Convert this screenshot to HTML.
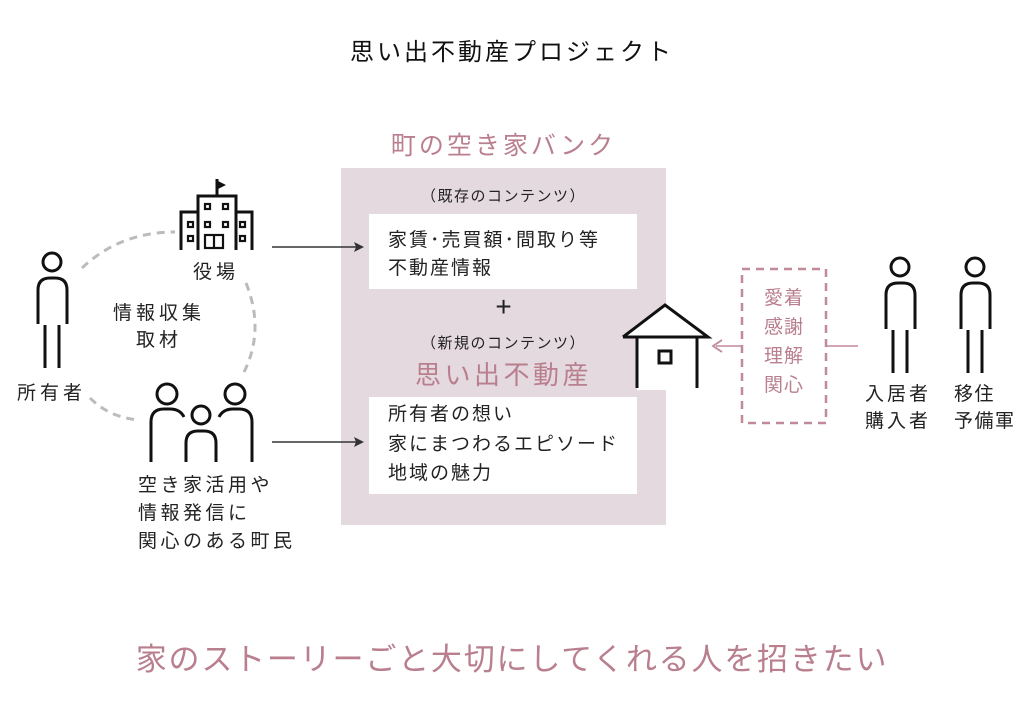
<!DOCTYPE html>
<html><head><meta charset="utf-8"><style>
html,body{margin:0;padding:0;background:#fff;}
body{width:1024px;height:702px;position:relative;overflow:hidden;font-family:"Liberation Sans","Noto Sans CJK JP",sans-serif;color:#222;}
.t{position:absolute;white-space:nowrap;}
.pk{color:#b97f8e;}
.lb{font-size:19px;letter-spacing:4px;}
</style></head><body>
<svg width="1024" height="702" style="position:absolute;left:0;top:0">
<rect x="341" y="168" width="325" height="357" fill="#e3d9de"/>
<rect x="369" y="214" width="268" height="75" fill="#fff"/>
<rect x="369" y="397" width="268" height="97" fill="#fff"/>
<polygon points="623,337 665,305 708,337 697,337 697,390 637,390 637,337" fill="#fff"/>
<g fill="none" stroke="#111" stroke-width="3">
<polyline points="623,337 665,305 708,337 623,337"/>
<line x1="637" y1="337" x2="637" y2="388"/>
<line x1="697" y1="337" x2="697" y2="388"/>
<rect x="659" y="351" width="12" height="12"/>
</g>
<g fill="none" stroke="#bbb" stroke-width="3" stroke-dasharray="8,6">
<path d="M82 268 Q120 232 175 232"/>
<path d="M246 283 Q265 330 244 372"/>
<path d="M90 398 Q110 418 140 420"/>
</g>
<g stroke="#333" stroke-width="1.6" fill="#333">
<line x1="272" y1="247" x2="358" y2="247"/><polygon points="364,247 354,242 356,247 354,252" stroke="none"/>
<line x1="272" y1="442" x2="358" y2="442"/><polygon points="364,442 354,437 356,442 354,447" stroke="none"/>
</g>
<line x1="858" y1="346" x2="716" y2="346" stroke="#c08a98" stroke-width="1.6"/>
<polyline points="722,340 713,346 722,352" fill="none" stroke="#c08a98" stroke-width="1.8"/>
<rect x="742" y="269" width="84" height="154" fill="#fff" stroke="#c08a98" stroke-width="2.5" stroke-dasharray="8,6"/>
<g fill="none" stroke="#111" stroke-width="3">
<line x1="217" y1="179" x2="217" y2="196"/>
<polyline points="198,250 198,196 236,196 236,250"/>
<polyline points="181,250 181,212 198,212"/>
<polyline points="236,212 252,212 252,250"/>
<g stroke-width="2.2">
<rect x="205" y="204" width="5" height="5"/><rect x="223" y="204" width="5" height="5"/>
<rect x="188" y="222" width="5" height="5"/><rect x="205" y="222" width="5" height="5"/><rect x="223" y="222" width="5" height="5"/><rect x="240" y="222" width="5" height="5"/>
<rect x="188" y="236" width="5" height="5"/><rect x="240" y="236" width="5" height="5"/>
<rect x="205" y="235" width="18" height="13"/><line x1="214" y1="235" x2="214" y2="248"/>
</g>
</g>
<polygon points="218,181 226,185 218,189" fill="#111"/>
<g fill="none" stroke="#111" stroke-width="3">
<g id="p"><circle cx="52" cy="262" r="9"/><path d="M38 324 V290 Q38 278 50 278 H55 Q67 278 67 290 V324"/><line x1="45" y1="325" x2="45" y2="368"/><line x1="59" y1="325" x2="59" y2="368"/></g>
<use href="#p" x="848" y="5"/>
<use href="#p" x="923" y="5"/>
<circle cx="167" cy="394" r="10"/>
<path d="M151 462 V422 Q151 409 164 409 H170 Q180 409 184 417"/>
<circle cx="235" cy="394" r="10"/>
<path d="M252 462 V422 Q252 409 239 409 H233 Q223 409 219 417"/>
<circle cx="201" cy="415" r="9"/>
<path d="M186 462 V443 Q186 431 198 431 H204 Q216 431 216 443 V462"/>
</g>
</svg>
<div class="t" style="left:0;width:1024px;text-align:center;top:32px;font-size:24px;letter-spacing:3px;color:#111">思い出不動産プロジェクト</div>
<div class="t pk" style="left:341px;width:325px;text-align:center;top:126px;font-size:25px;letter-spacing:3px">町の空き家バンク</div>
<div class="t" style="left:341px;width:325px;text-align:center;top:185px;font-size:15px;letter-spacing:1.5px">（既存のコンテンツ）</div>
<div class="t" style="left:388px;top:227px;font-size:19px;line-height:28px;letter-spacing:2px">家賃･売買額･間取り等<br>不動産情報</div>
<div class="t" style="left:341px;width:325px;text-align:center;top:291px;font-size:28px;font-weight:300">+</div>
<div class="t" style="left:341px;width:325px;text-align:center;top:332px;font-size:15px;letter-spacing:1.5px">（新規のコンテンツ）</div>
<div class="t pk" style="left:341px;width:325px;text-align:center;top:355px;font-size:26px;letter-spacing:3.5px">思い出不動産</div>
<div class="t" style="left:388px;top:400px;font-size:19px;line-height:29.5px;letter-spacing:2px">所有者の想い<br>家にまつわるエピソード<br>地域の魅力</div>
<div class="t lb" style="left:193px;top:257px">役場</div>
<div class="t lb" style="left:113px;top:300px;line-height:27px;text-align:center">情報収集<br>取材</div>
<div class="t lb" style="left:17px;top:378px">所有者</div>
<div class="t lb" style="left:138px;top:472px;line-height:28px;letter-spacing:3.5px">空き家活用や<br>情報発信に<br>関心のある町民</div>
<div class="t pk" style="left:742px;width:84px;text-align:center;top:284px;font-size:19px;line-height:29px;letter-spacing:1px">愛着<br>感謝<br>理解<br>関心</div>
<div class="t lb" style="left:865px;top:381px;line-height:27px;letter-spacing:3px">入居者<br>購入者</div>
<div class="t lb" style="left:954px;top:381px;line-height:27px;letter-spacing:1.5px">移住<br>予備軍</div>
<div class="t pk" style="left:0;width:1024px;text-align:center;top:634px;font-size:31px;letter-spacing:1.8px">家のストーリーごと大切にしてくれる人を招きたい</div>
</body></html>
